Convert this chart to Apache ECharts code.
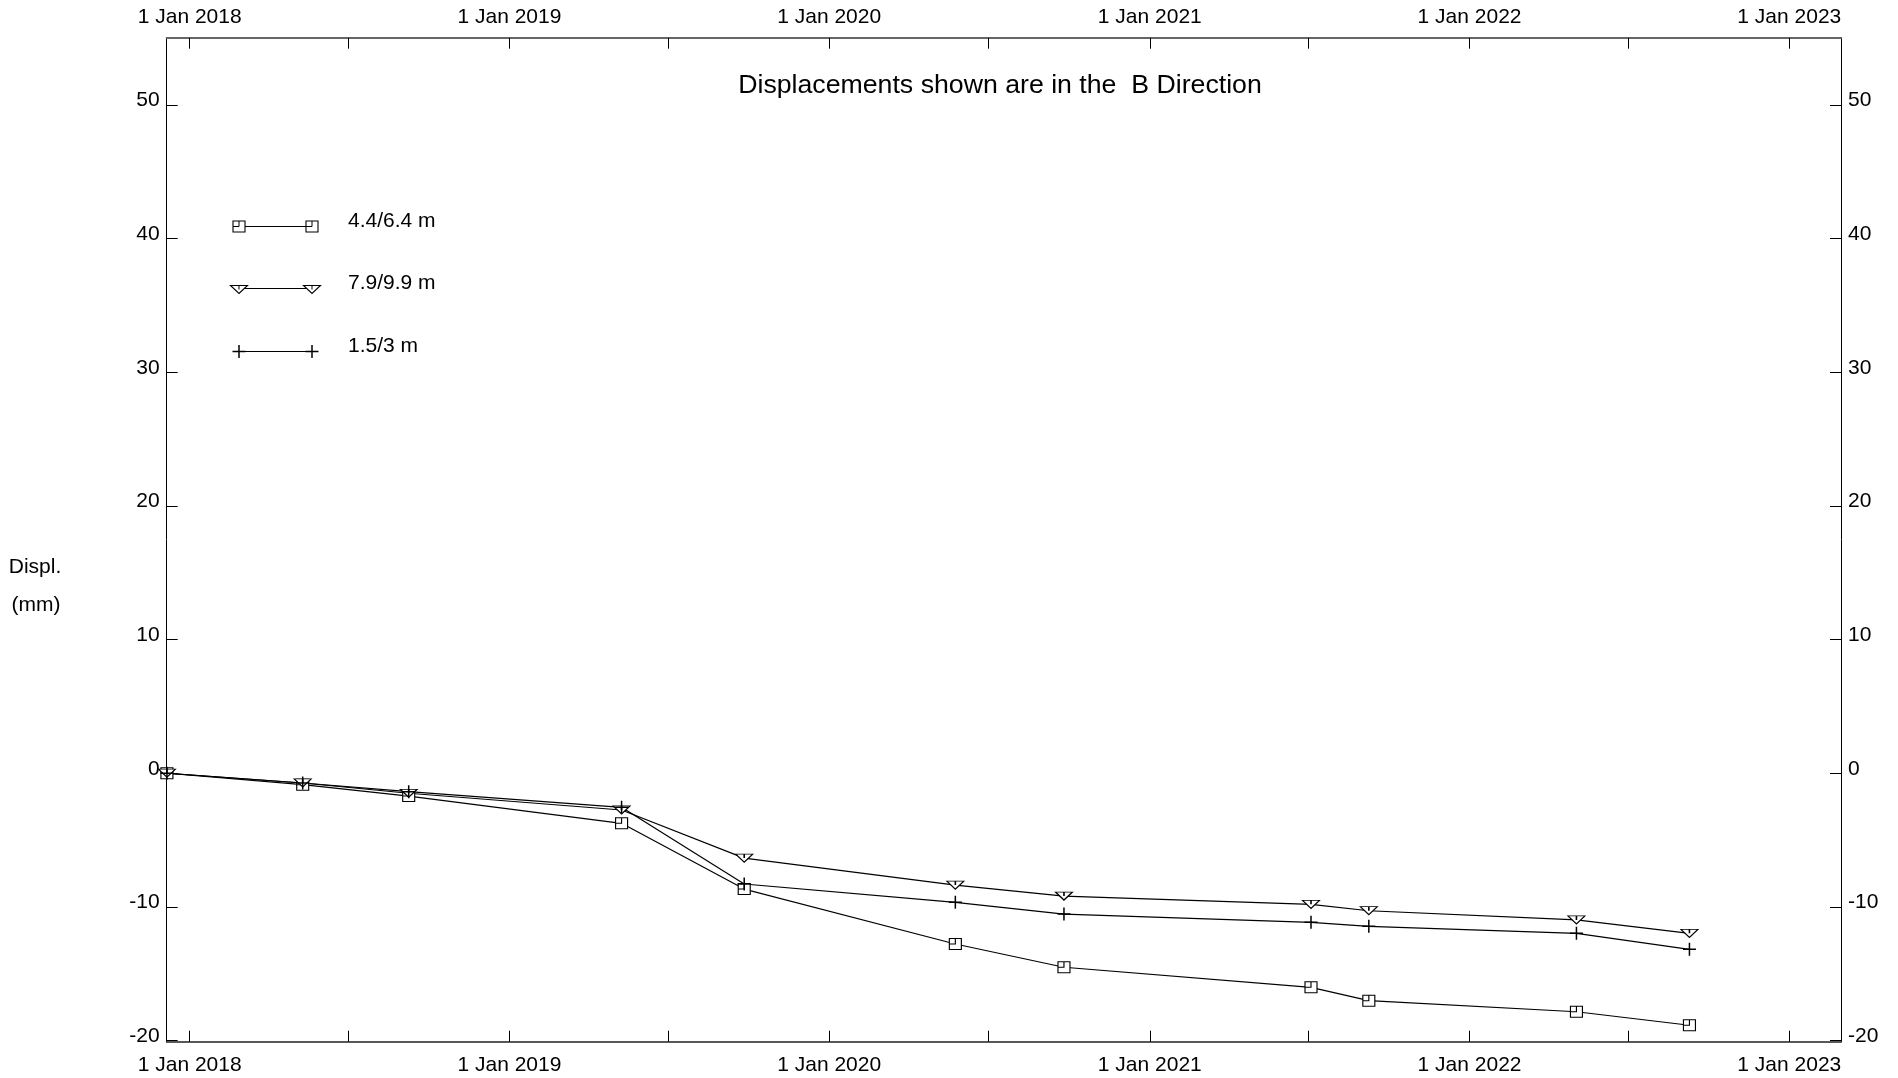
<!DOCTYPE html>
<html>
<head>
<meta charset="utf-8">
<script src="https://cdn.jsdelivr.net/npm/echarts@6.0.0/dist/echarts.min.js"></script>
<style>
html,body{margin:0;padding:0;background:#fff;}
#chart{width:1898px;height:1078px;}
</style>
</head>
<body>
<div id="chart"></div>
<script>
// ---- data ----
const dates = ['2017-12-06','2018-05-10','2018-09-08','2019-05-09','2019-09-26','2020-05-24','2020-09-25','2021-07-04','2021-09-08','2022-05-03','2022-09-09'];
const seriesNames = ['4.4/6.4 m', '7.9/9.9 m', '1.5/3 m'];
const disp44 = [0, -0.86, -1.71, -3.75, -8.67, -12.78, -14.52, -16.02, -17.02, -17.85, -18.86];
const disp79 = [0, -0.73, -1.50, -2.75, -6.35, -8.37, -9.19, -9.81, -10.29, -10.98, -11.98];
const disp15 = [0, -0.73, -1.38, -2.55, -8.29, -9.66, -10.54, -11.16, -11.46, -11.98, -13.18];
const yTicks = [-20, -10, 0, 10, 20, 30, 40, 50];
const yearLabels = [2018, 2019, 2020, 2021, 2022, 2023];
const titleText = 'Displacements shown are in the  B Direction';

// ---- helpers ----
function ts(s){ const p = s.split('-').map(Number); return Date.UTC(p[0], p[1]-1, p[2]); }
const labelVals = yearLabels.map(y => Date.UTC(y,0,1));
const tickVals = [];
yearLabels.forEach((y,i) => { tickVals.push(Date.UTC(y,0,1)); if (i < yearLabels.length-1) tickVals.push(Date.UTC(y,6,1)); });
const xMin = Date.UTC(2017,11,5,18);
const xMax = Date.UTC(2023,2,1);
const FONT = '"Liberation Sans", Arial, sans-serif';

const SYM_SQ = 'path://M0,0L12,0L12,11L0,11ZM6,0L6,5.5L0,5.5';
const SYM_TRI = 'path://M0,0L17,0L8.5,8ZM8.5,0L8.5,4';
const SYM_PLUS = 'path://M6.5,0L6.5,13M0,6.5L13,6.5';

function xAxisCfg(pos, margin, lineColor, lineWidth){
  return {
    type:'value', position:pos, min:xMin, max:xMax, gridIndex:0,
    axisLine:{show:true, onZero:false, lineStyle:{color:lineColor, width:lineWidth}},
    axisTick:{show:true, inside:true, length:11, customValues:tickVals, lineStyle:{color:'#000', width:1}},
    axisLabel:{show:true, customValues:labelVals, margin:margin, color:'#000', fontSize:21, fontFamily:FONT,
      formatter:v => '1 Jan ' + new Date(v).getUTCFullYear()},
    splitLine:{show:false}
  };
}
function yAxisCfg(pos){
  return {
    type:'value', position:pos, min:-20.09, max:55.04, gridIndex:0,
    axisLine:{show:true, onZero:false, lineStyle:{color:'#000', width:1}},
    axisTick:{show:true, inside:true, length:11, customValues:yTicks, lineStyle:{color:'#000', width:1}},
    axisLabel:{show:true, customValues:yTicks, margin:7, color:'#000', fontSize:21, fontFamily:FONT,
      verticalAlign:'bottom', lineHeight:9},
    splitLine:{show:false}
  };
}
function mk(vals){ return dates.map((d,i) => [ts(d), vals[i]]); }
function lineSeries(name, vals, sym, size, bw){
  return {
    name:name, type:'line', data:mk(vals), symbol:sym, symbolSize:size, showAllSymbol:true,
    xAxisIndex:0, yAxisIndex:0, clip:false,
    lineStyle:{color:'#000', width:1.2},
    itemStyle:{color:'#fff', borderColor:'#000', borderWidth:bw},
    emphasis:{disabled:true}, animation:false
  };
}

// legend sample graphics
function legendSample(kind, y){
  const els = [{type:'line', shape:{x1:239, y1:y, x2:312, y2:y}, style:{stroke:'#000', lineWidth:1.2}}];
  [239, 312].forEach(cx => {
    if (kind === 'sq') {
      els.push({type:'rect', shape:{x:cx-6, y:y-5.5, width:12, height:11}, style:{fill:'#fff', stroke:'#000', lineWidth:1.1}});
      els.push({type:'polyline', shape:{points:[[cx, y-5.5],[cx, y],[cx-6, y]]}, style:{fill:null, stroke:'#000', lineWidth:1}});
    } else if (kind === 'tri') {
      els.push({type:'polygon', shape:{points:[[cx-8.5, y-3],[cx+8.5, y-3],[cx, y+5]]}, style:{fill:'#fff', stroke:'#000', lineWidth:1.1}});
      els.push({type:'line', shape:{x1:cx, y1:y-3, x2:cx, y2:y+1}, style:{stroke:'#000', lineWidth:1}});
    } else {
      els.push({type:'line', shape:{x1:cx, y1:y-6.5, x2:cx, y2:y+6.5}, style:{stroke:'#000', lineWidth:1.5}});
      els.push({type:'line', shape:{x1:cx-6.5, y1:y, x2:cx+6.5, y2:y}, style:{stroke:'#000', lineWidth:1.5}});
    }
  });
  return els;
}
function txt(t, x, y, size, align){
  return {type:'text', x:x, y:y, style:{text:t, fill:'#000', font:size+'px '+FONT, textAlign:align||'left', textVerticalAlign:'middle'}};
}

const graphics = [].concat(
  legendSample('sq', 226.5),
  legendSample('tri', 288.5),
  legendSample('plus', 351.5),
  [
    txt(seriesNames[0], 348, 221, 21),
    txt(seriesNames[1], 348, 283, 21),
    txt(seriesNames[2], 348, 346.5, 21),
    txt(titleText, 1000, 86, 26.7, 'center'),
    txt('Displ.', 35, 567, 21, 'center'),
    txt('(mm)', 36, 605, 21, 'center')
  ]
);

const chart = echarts.init(document.getElementById('chart'), null, {renderer:'canvas'});
chart.setOption({
  animation:false,
  backgroundColor:'#fff',
  grid:{left:166.7, right:57, top:37.7, bottom:36.3, containLabel:false},
  xAxis:[ xAxisCfg('bottom', 13.5, '#222', 1.5), xAxisCfg('top', 10, '#666', 2) ],
  yAxis:[ yAxisCfg('left'), yAxisCfg('right') ],
  series:[
    lineSeries(seriesNames[0], disp44, SYM_SQ, [12,11], 1.1),
    lineSeries(seriesNames[1], disp79, SYM_TRI, [17,8], 1.1),
    lineSeries(seriesNames[2], disp15, SYM_PLUS, 13, 1.5)
  ],
  graphic:graphics
});
</script>
</body>
</html>
